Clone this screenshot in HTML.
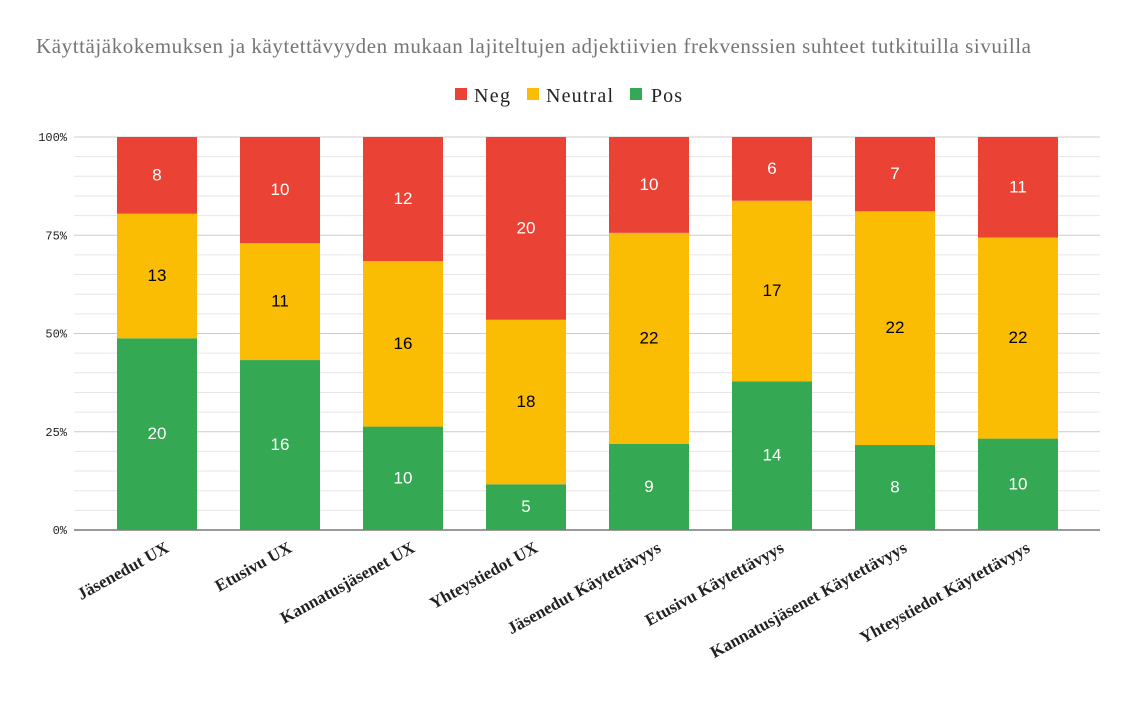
<!DOCTYPE html>
<html><head><meta charset="utf-8"><style>
body{margin:0;background:#fff;}
svg text{font-family:"Liberation Serif",serif;}
</style></head><body>
<svg id="c" width="1136" height="704">
<text x="36" y="53" font-size="21" fill="#757575" textLength="995" lengthAdjust="spacing">Käyttäjäkokemuksen ja käytettävyyden mukaan lajiteltujen adjektiivien frekvenssien suhteet tutkituilla sivuilla</text>
<g>
<g><rect x="455" y="88" width="12" height="12" fill="#ea4335"/><text x="474" y="102" font-size="20" fill="#222" textLength="36">Neg</text></g>
<g><rect x="527" y="88" width="12" height="12" fill="#fbbc04"/><text x="546" y="102" font-size="20" fill="#222" textLength="67">Neutral</text></g>
<g><rect x="630" y="88" width="12" height="12" fill="#34a853"/><text x="651" y="102" font-size="20" fill="#222" textLength="31">Pos</text></g>
</g>
<g id="grid"></g><g id="bars"></g><g id="xl"></g>
</svg>
<script>
const categories=["Jäsenedut UX","Etusivu UX","Kannatusjäsenet UX","Yhteystiedot UX","Jäsenedut Käytettävyys","Etusivu Käytettävyys","Kannatusjäsenet Käytettävyys","Yhteystiedot Käytettävyys"];
const pos=[20,16,10,5,9,14,8,10];
const neutral=[13,11,16,18,22,17,22,22];
const neg=[8,10,12,20,10,6,7,11];
const ticks=["0%","25%","50%","75%","100%"];
const NS="http://www.w3.org/2000/svg";
const y0=530,y1=137,H=y0-y1;
const y=f=>y0-f*H;
const xc=i=>157+i*123;
function mk(t,a,p){const e=document.createElementNS(NS,t);for(const k in a)e.setAttribute(k,a[k]);p.appendChild(e);return e;}
const g=document.getElementById('grid');
for(let k=0;k<=20;k++){
 const l=mk('line',{x1:74,x2:1100,y1:y(k/20),y2:y(k/20),stroke:k%5==0?'#ccc':'#e6e6e6','stroke-width':1},g);
 
 
}
ticks.forEach((t,i)=>{
 const e=mk('text',{x:67,y:y(i/4)+4,'text-anchor':'end','font-size':12,fill:'#222',style:'font-family:"Liberation Mono",monospace'},g);
 e.textContent=t;
 
 
});
mk('line',{x1:74,x2:1100,y1:y0,y2:y0,stroke:'#333','stroke-width':1},g);
const b=document.getElementById('bars');
const series=[[pos,'#34a853','#fff','pos'],[neutral,'#fbbc04','#000','neutral'],[neg,'#ea4335','#fff','neg']];
categories.forEach((c,i)=>{
 const tot=pos[i]+neutral[i]+neg[i];let acc=0;
 series.forEach(([arr,col,tc,nm])=>{
  const v=arr[i],a=acc/tot,bb=(acc+v)/tot;acc+=v;
  const r=mk('rect',{x:xc(i)-40,y:y(bb),width:80,height:y(a)-y(bb),fill:col},b);
  
  
  const t=mk('text',{x:xc(i),y:(y(a)+y(bb))/2+5,'text-anchor':'middle','font-size':17,fill:tc,style:'font-family:"Liberation Sans",sans-serif'},b);
  t.textContent=v;
  
  
 });
 const xl=mk('text',{x:0,y:0,'text-anchor':'end','font-size':17,'font-weight':'bold',fill:'#222',transform:`translate(${xc(i)+13},${551}) rotate(-29)`},document.getElementById('xl'));
 xl.textContent=c;
 
 
});
</script>
</body></html>
